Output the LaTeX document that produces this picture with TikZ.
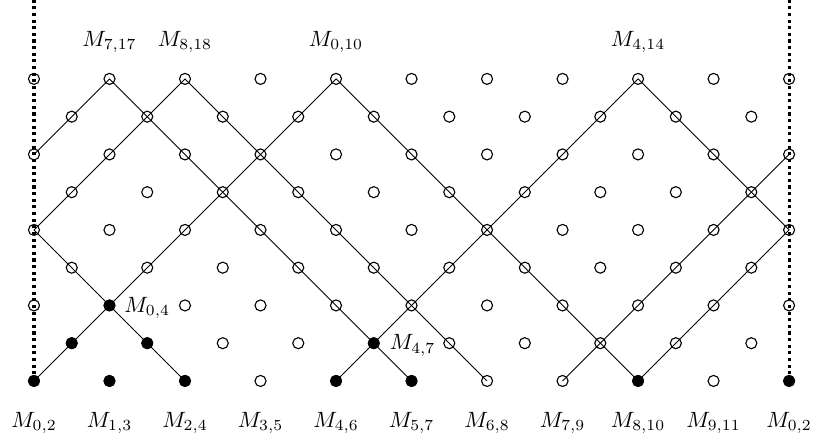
\documentclass[tikz,border=0pt]{standalone}
\usepackage{amsmath,amssymb}
\usepackage{tikz}
\usetikzlibrary{positioning}

\begin{document}
\begin{tikzpicture}[x=0.6cm,y=0.6cm,
    pt/.style={circle,draw,line width=0.5pt,inner sep=0pt,minimum size=5pt},
    wall/.style={line width=1.4pt,dash pattern=on 1.4pt off 1.6pt}]
  \useasboundingbox (-0.9,-1.43) rectangle (20.66,10.09);

  \foreach \r in {0,...,8}
    \foreach \c in {0,...,20}{
      \pgfmathtruncatemacro{\odd}{mod(\c+\r,2)}
      \ifnum\odd=0 \node[pt] (p-\c-\r) at (\c,\r) {};\fi
    }

  \foreach \c/\r in {0/0,2/0,4/0,1/1,3/1,2/2,8/0,10/0,9/1,16/0,20/0}
    \fill (p-\c-\r.center) circle (2.6pt);

  \coordinate (tl) at (0,10.09);
  \coordinate (tr) at (20,10.09);
  \draw[wall] (p-0-0.center) -- (tl);
  \draw[wall] (p-20-0.center) -- (tr);

  \draw (p-0-0.center) -- (p-8-8.center) -- (p-16-0.center);
  \draw (p-8-0.center) -- (p-16-8.center) -- (p-20-4.center) -- (p-16-0.center);
  \draw (p-4-0.center) -- (p-0-4.center) -- (p-4-8.center) -- (p-12-0.center);
  \draw (p-0-6.center) -- (p-2-8.center) -- (p-10-0.center);
  \draw (p-14-0.center) -- (p-20-6.center);

  \foreach \c/\i/\j in {0/0/2,2/1/3,4/2/4,6/3/5,8/4/6,10/5/7,12/6/8,14/7/9,16/8/10,18/9/11,20/0/2}
    \node[below=8pt of p-\c-0] (b-\c) {$M_{\i,\j}$};

  \node[above=5.7pt of p-2-8] (t-2) {$M_{7,17}$};
  \node[above=5.7pt of p-4-8] (t-4) {$M_{8,18}$};
  \node[above=5.7pt of p-8-8] (t-8) {$M_{0,10}$};
  \node[above=5.7pt of p-16-8] (t-16) {$M_{4,14}$};

  \node[right=0.5pt of p-2-2,yshift=-1pt] (m-2-2) {$M_{0,4}$};
  \node[right=1pt of p-9-1,yshift=-1pt] (m-9-1) {$M_{4,7}$};
\end{tikzpicture}
\end{document}
